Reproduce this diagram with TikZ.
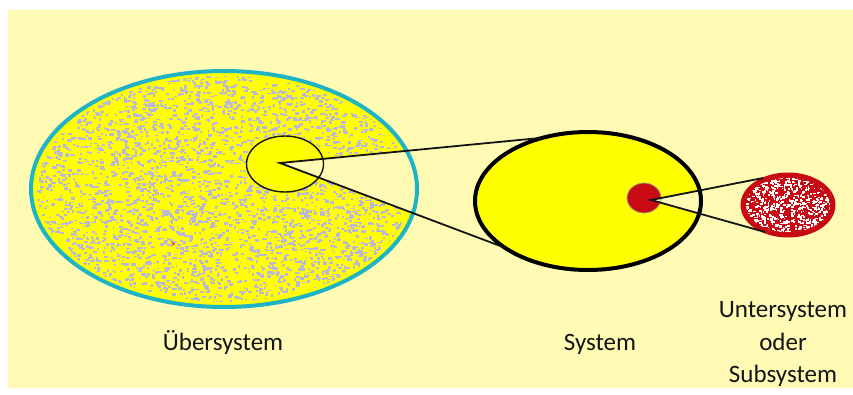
\documentclass[tikz,border=0pt]{standalone}
\usepackage{fontspec}
\setmainfont{Carlito}
\definecolor{bgc}{HTML}{FFFBB5}
\definecolor{sun}{HTML}{FFFF00}
\definecolor{rimc}{HTML}{1EB4C6}
\definecolor{speck}{HTML}{B9B9D6}
\definecolor{redc}{HTML}{C80A14}
\definecolor{ink}{HTML}{141414}
\tikzset{
  conn/.style={draw=ink, line width=1.8pt},
  lbl/.style={font=\fontsize{25}{32.5}\selectfont, text=ink, align=center, inner sep=0pt}
}
\begin{document}
\begin{tikzpicture}[x=1pt,y=-1pt]
\useasboundingbox (0,0) rectangle (853,394);
\fill[white] (0,0) rectangle (853,394);
\fill[bgc] (8,10) rectangle (853,388);
\pgfmathsetseed{7}
% named points
\coordinate (a1) at (280,163);
\coordinate (s1) at (540,138);
\coordinate (s2) at (503,247);
\coordinate (e1) at (430,148.6);
\coordinate (e2) at (430,219.5);
\coordinate (a2) at (651,200);
\coordinate (u1) at (763,178);
\coordinate (u2) at (765,232);
\coordinate (f1) at (710,188.4);
\coordinate (f2) at (710,216.6);
% Uebersystem, with the cone left open
\begin{scope}
  \clip (a1) -- (e1) -- (430,40) -- (15,40) -- (15,330) -- (430,330) -- (e2) -- cycle;
  \fill[sun] (224,189) ellipse [x radius=193, y radius=118];
  \begin{scope}
    \clip (224,189) ellipse [x radius=187, y radius=113];
    \foreach \i in {1,...,4200}{
      \pgfmathsetmacro\px{224+190*rand}
      \pgfmathsetmacro\py{189+116*rand}
      \pgfmathsetmacro\pw{1.5+3*rnd}
      \pgfmathsetmacro\ph{1.2+1.8*rnd}
      \fill[speck] (\px,\py) rectangle ++(\pw,\ph);
    }
  \end{scope}
  \fill[sun] (285,164) ellipse [x radius=38.5, y radius=28];
\end{scope}
\draw[line width=1.4pt, draw=ink] (285,164) ellipse [x radius=38.5, y radius=28];
\draw[rimc, line width=4pt] (224,189) ellipse [x radius=193, y radius=118];
% System, with the cone left open
\begin{scope}
  \clip (a2) -- (f1) -- (710,110) -- (465,110) -- (465,290) -- (710,290) -- (f2) -- cycle;
  \fill[sun] (588,201) ellipse [x radius=113, y radius=69];
  \fill[redc] (644,198) ellipse [x radius=17, y radius=15];
\end{scope}
\draw[line width=0.8pt, draw=black!35!bgc] (644,198) ellipse [x radius=17, y radius=15];
% Subsystem
\fill[redc] (788,205) ellipse [x radius=46, y radius=31];
\begin{scope}
  \clip (788,205) ellipse [x radius=42, y radius=27];
  \foreach \i in {1,...,700}{
    \pgfmathsetmacro\px{787+43*rand}
    \pgfmathsetmacro\py{204+29*rand}
    \pgfmathsetmacro\pw{1+2*rnd}
    \pgfmathsetmacro\ph{1+1.5*rnd}
    \fill[white] (\px,\py) rectangle ++(\pw,\ph);
  }
\end{scope}
\draw[redc, line width=3pt] (788,205) ellipse [x radius=46, y radius=31];
\draw[black, line width=4pt] (588,201) ellipse [x radius=113, y radius=69];
% connectors
\draw[conn] (s1) -- (a1) -- (s2);
\draw[conn] (u1) -- (a2) -- (u2);
% tiny mark
\fill[magenta!80!red] (171,241) -- (175,244) -- (171,246) -- (173,244) -- cycle;
% labels
\node[lbl, anchor=base] (l1) at (223,350) {Übersystem};
\node[lbl, anchor=base] (l2) at (600,350) {System};
\node[lbl, anchor=north] (l3) at (783,301.5) {Untersystem\\oder\\Subsystem};
\end{tikzpicture}
\end{document}
